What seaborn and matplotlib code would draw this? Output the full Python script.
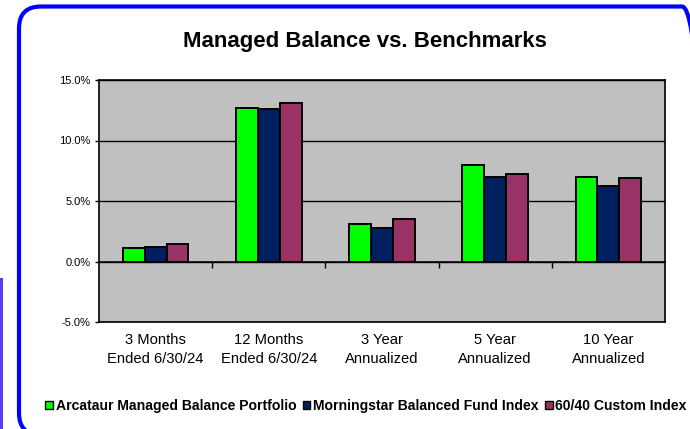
import matplotlib
matplotlib.use("Agg")
import matplotlib.pyplot as plt
import matplotlib.transforms as mtransforms
from matplotlib.patches import FancyBboxPatch, Rectangle, Patch
import seaborn as sns
import pandas as pd

# ---- data ----
categories = ["3 Months\nEnded 6/30/24", "12 Months\nEnded 6/30/24",
              "3 Year\nAnnualized", "5 Year\nAnnualized", "10 Year\nAnnualized"]
series_names = ["Arcataur Managed Balance Portfolio",
                "Morningstar Balanced Fund Index",
                "60/40 Custom Index"]
arcataur = [1.1, 12.7, 3.1, 8.0, 7.0]
morningstar = [1.2, 12.6, 2.8, 7.0, 6.2]
custom_index = [1.45, 13.1, 3.5, 7.2, 6.9]
colors = ["#00FF00", "#001F5F", "#993366"]
yticks = [-5, 0, 5, 10, 15]
ytick_labels = ["-5.0%", "0.0%", "5.0%", "10.0%", "15.0%"]
title = "Managed Balance vs. Benchmarks"

rows = []
for name, vals in zip(series_names, [arcataur, morningstar, custom_index]):
    for c, v in zip(categories, vals):
        rows.append({"category": c, "series": name, "value": v})
df = pd.DataFrame(rows)

plt.rcParams["font.family"] = ["Liberation Sans", "DejaVu Sans"]

W, H = 690, 429
fig = plt.figure(figsize=(W / 100, H / 100), dpi=100)
fig.patch.set_facecolor("white")

ax = fig.add_axes([99 / W, 1 - 322 / H, (665 - 99) / W, (322 - 80) / H])
sns.barplot(data=df, x="category", y="value", hue="series",
            order=categories, hue_order=series_names, palette=colors,
            saturation=1, width=0.58, edgecolor="black", linewidth=1.4,
            legend=False, ax=ax, zorder=3)

ax.set_facecolor("#C0C0C0")
ax.set_ylim(yticks[0], yticks[-1])
ax.set_xlim(-0.5, len(categories) - 0.5)
ax.set_yticks(yticks)
ax.set_yticklabels(ytick_labels)
ax.set_xlabel("")
ax.set_ylabel("")
ax.set_axisbelow(True)
ax.grid(axis="y", color="black", linewidth=1.0)
ax.grid(axis="x", visible=False)
for s in ax.spines.values():
    s.set_visible(True)
    s.set_color("black")
    s.set_linewidth(1.2)
ax.tick_params(axis="x", length=0, pad=8, labelsize=10.6)
ax.tick_params(axis="y", length=3, width=1, pad=3, labelsize=8, color="black")
for t in ax.get_xticklabels():
    t.set_linespacing(1.4)

# zero axis with category separators
sec = ax.secondary_xaxis(0.25)
sec.set_xticks([i + 0.5 for i in range(len(categories) - 1)])
sec.tick_params(length=4, width=1, labelbottom=False, labeltop=False, color="black")
for s in sec.spines.values():
    s.set_color("black")
    s.set_linewidth(1.2)

fig.text(365 / W, 1 - 42 / H, title, ha="center", va="center",
         fontsize=16, fontweight="bold")

handles = [Patch(facecolor=c, edgecolor="black", linewidth=1.0) for c in colors]
fig.legend(handles, series_names, loc="center",
           bbox_to_anchor=(366 / W, 1 - 406 / H), ncol=3, frameon=False,
           prop={"weight": "bold", "size": 10.1}, handlelength=0.55,
           handleheight=0.55, handletextpad=0.2, columnspacing=0.45,
           borderaxespad=0, borderpad=0)

ident = mtransforms.IdentityTransform()
border = FancyBboxPatch((19, H - 435), 704 - 19, 435 - 6.5,
                        boxstyle="round,pad=0,rounding_size=22",
                        facecolor="none", edgecolor="#0000FF", linewidth=3,
                        transform=ident)
fig.add_artist(border)
strip = Rectangle((0, 0), 3, H - 278, facecolor="#5B3BEF", edgecolor="none",
                  transform=ident)
fig.add_artist(strip)

fig.savefig("out.png", dpi=100)
